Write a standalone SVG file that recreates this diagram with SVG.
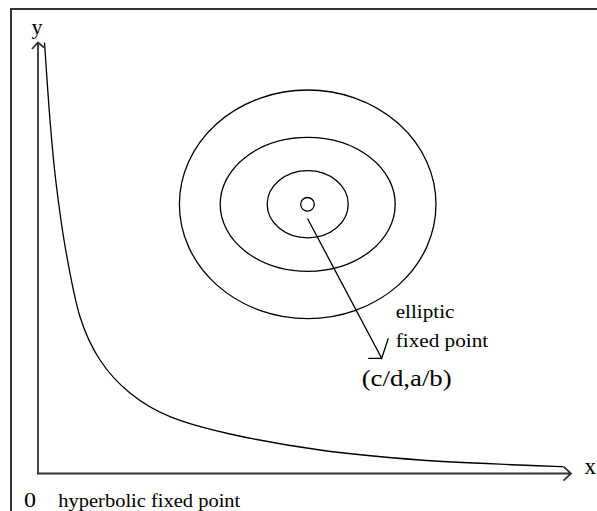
<svg xmlns="http://www.w3.org/2000/svg" width="597" height="511" viewBox="0 0 597 511">
<style>
.frame{fill:none;stroke:#333;stroke-width:2}
.axis{fill:none;stroke:#333;stroke-width:1.8}
.ln{fill:none;stroke:#000;stroke-width:1.3}
text{font-family:"Liberation Serif","Times New Roman",serif;fill:#000}
</style>
<rect width="597" height="511" fill="#fff"/>
<path class="frame" d="M11,520 V9 H600"/>
<g id="connectors">
<path class="axis" d="M38,474 V42.5 M32,49 L38,42.5 L44,47.5"/>
<path class="axis" d="M37,473.5 H571 M563.5,466.7 L571,473.5 L563.5,480.7"/>
<path class="ln" d="M307.5,218.5 L381.7,358.3 L388.3,338.3 M368.3,358.3 H381.7"/>
</g>
<g id="hyperbola">
<path class="ln" d="M44.5,42.5 C45.4,55.4 48.1,97.1 50,120 C51.9,142.9 53.1,158.3 55.7,180 C58.3,201.7 61.65,227.2 65.7,250 C69.75,272.8 74.3,298.4 80,316.7 C85.7,335 91.7,347.3 100,360 C108.3,372.7 118.3,383.5 130,393 C141.7,402.5 153.3,409.9 170,416.7 C186.7,423.5 205,428.45 230,434 C255,439.55 288.3,445.7 320,450 C351.7,454.3 386.7,457.5 420,460 C453.3,462.5 496.1,463.9 520,465 C543.9,466.1 556.1,466.4 563.3,466.7"/>
</g>
<g id="orbits">
<ellipse class="ln" cx="307.7" cy="204.3" rx="128.3" ry="114.3"/>
<ellipse class="ln" cx="307.7" cy="204.3" rx="87.5" ry="67"/>
<ellipse class="ln" cx="307.7" cy="204.3" rx="40.5" ry="33.6"/>
</g>
<g id="fixed-point">
<circle class="ln" cx="307.5" cy="204.3" r="6.8"/>
</g>
<g id="labels">
<text x="31.5" y="34" font-size="22">y</text>
<text x="584.5" y="474" font-size="23">x</text>
<text x="395.7" y="318.3" font-size="19" textLength="58.7" lengthAdjust="spacingAndGlyphs">elliptic</text>
<text x="395.7" y="347.3" font-size="19" textLength="92.6" lengthAdjust="spacingAndGlyphs">fixed point</text>
<text x="361.7" y="385.5" font-size="23" textLength="90" lengthAdjust="spacingAndGlyphs">(c/d,a/b)</text>
<text x="24" y="507" font-size="21" textLength="12" lengthAdjust="spacingAndGlyphs">0</text>
<text x="58.3" y="507" font-size="18" textLength="182" lengthAdjust="spacingAndGlyphs">hyperbolic fixed point</text>
</g>
</svg>
